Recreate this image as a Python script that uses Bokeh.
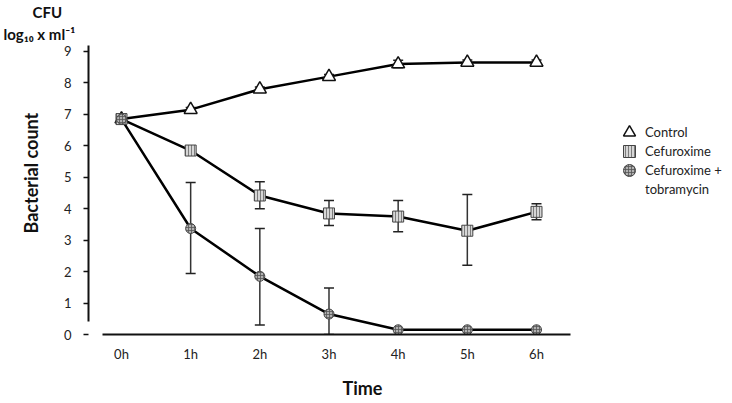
from bokeh.plotting import figure
from bokeh.models import (Range1d, FixedTicker, Whisker, TeeHead, ColumnDataSource,
                          Legend, LegendItem, Title)
from bokeh.embed import file_html
from bokeh.resources import INLINE

# ---- data ----
hours = ["0h", "1h", "2h", "3h", "4h", "5h", "6h"]
t = [0, 1, 2, 3, 4, 5, 6]
control = [6.85, 7.15, 7.80, 8.20, 8.60, 8.65, 8.65]
control_upper = [6.90, 7.22, 7.87, 8.27, 8.72, 8.73, 8.73]
control_lower = [6.80, 7.08, 7.73, 8.13, 8.48, 8.57, 8.57]
cef = [6.85, 5.85, 4.42, 3.85, 3.75, 3.30, 3.90]
cef_upper = [6.90, 5.95, 4.86, 4.26, 4.26, 4.45, 4.16]
cef_lower = [6.80, 5.75, 4.00, 3.47, 3.27, 2.20, 3.65]
combo = [6.85, 3.37, 1.85, 0.65, 0.15, 0.15, 0.15]
combo_upper = [6.90, 4.83, 3.37, 1.48, 0.15, 0.15, 0.15]
combo_lower = [6.80, 1.94, 0.30, 0.00, 0.15, 0.15, 0.15]
y_ticks = [0, 1, 2, 3, 4, 5, 6, 7, 8, 9]
legend_labels = ["Control", "Cefuroxime", "Cefuroxime +", "tobramycin"]

FONT = "Lato"
X0, X1 = -0.477, 8.776
Y0, Y1 = 0.0, 9.19

p = figure(frame_width=640, frame_height=289, min_border_left=88, min_border_right=0,
           min_border_top=44, min_border_bottom=70, title_location=None,
           x_range=Range1d(X0, X1), y_range=Range1d(Y0, Y1),
           output_backend="svg", toolbar_location=None)
p.outline_line_color = None
p.xgrid.visible = False
p.ygrid.visible = False
p.background_fill_color = "white"
p.border_fill_color = "white"

# axes
xa = p.xaxis[0]
xa.ticker = FixedTicker(ticks=t)
xa.major_label_overrides = {i: h for i, h in zip(t, hours)}
xa.major_tick_in = 0
xa.major_tick_out = 0
xa.minor_tick_line_color = None
xa.axis_line_width = 2
xa.axis_line_color = "#111111"
xa.bounds = (-0.275, 6.49)
xa.major_label_text_font = FONT
xa.major_label_text_font_size = "13px"
xa.major_label_text_color = "#222222"
xa.major_label_standoff = 11

ya = p.yaxis[0]
ya.ticker = FixedTicker(ticks=y_ticks)
ya.major_tick_in = 0
ya.major_tick_out = 5
ya.major_tick_line_width = 1.5
ya.major_tick_line_color = "#111111"
ya.minor_tick_line_color = None
ya.axis_line_width = 2
ya.axis_line_color = "#111111"
ya.bounds = (0.41, 9.19)
ya.major_label_text_font = FONT
ya.major_label_text_font_size = "13px"
ya.major_label_text_color = "#222222"
ya.major_label_standoff = 12

src_c = ColumnDataSource(dict(x=t, y=control, up=control_upper, lo=control_lower))
src_f = ColumnDataSource(dict(x=t, y=cef, up=cef_upper, lo=cef_lower))
src_m = ColumnDataSource(dict(x=t, y=combo, up=combo_upper, lo=combo_lower))

for s in (src_c, src_f, src_m):
    p.line("x", "y", source=s, line_width=2.5, line_color="black")

for s in (src_c, src_f, src_m):
    w = Whisker(base="x", upper="up", lower="lo", source=s, level="underlay",
                line_color="#333333", line_width=1.5,
                upper_head=TeeHead(size=10, line_width=1.5, line_color="#222222"),
                lower_head=TeeHead(size=10, line_width=1.5, line_color="#222222"))
    p.add_layout(w)

r_c = p.scatter("x", "y", source=src_c, marker="triangle", size=13,
                fill_color="white", line_color="#111111", line_width=1.5)
r_f = p.scatter("x", "y", source=src_f, marker="square", size=11,
                fill_color="#d6d6d6", line_color="#444444", line_width=1,
                hatch_pattern="|", hatch_scale=3, hatch_color="#666666", hatch_weight=0.8)
r_m = p.scatter("x", "y", source=src_m, marker="circle", size=10,
                fill_color="#b0b0b0", line_color="#444444", line_width=1,
                hatch_pattern="+", hatch_scale=3, hatch_color="#555555", hatch_weight=0.8)
r_dummy = p.scatter([], [], marker="circle", size=1, fill_alpha=0, line_alpha=0)

# one legend per row so that the rows sit closer than the glyph boxes
legend_bottoms = [187, 168, 149, 130]
for lbl, r, b in zip(legend_labels, [r_c, r_f, r_m, r_dummy], legend_bottoms):
    lg = Legend(items=[LegendItem(label=lbl, renderers=[r])], location=(526, b),
                padding=0, margin=0, spacing=0,
                glyph_width=30, glyph_height=30, label_height=19, label_standoff=1,
                label_text_font=FONT, label_text_font_size="13px",
                label_text_color="#222222",
                border_line_color=None, background_fill_alpha=0)
    p.add_layout(lg)

# unit lines above the y axis
p.add_layout(Title(text="log\u2081\u2080 x ml\u207b\u00b9", align="left", offset=-85, standoff=5,
                   text_font=FONT, text_font_size="15px", text_font_style="bold",
                   text_color="#111111"), "above")
p.add_layout(Title(text="CFU", align="left", offset=-56, standoff=0,
                   text_font=FONT, text_font_size="15px", text_font_style="bold",
                   text_color="#111111"), "above")

# axis titles
p.add_layout(Title(text="Bacterial count", align="left", offset=101, standoff=34,
                   vertical_align="top",
                   text_font=FONT, text_font_size="18px", text_font_style="bold",
                   text_color="#111111"), "left")
p.add_layout(Title(text="Time", align="left", offset=254, standoff=20,
                   text_font=FONT, text_font_size="18px", text_font_style="bold",
                   text_color="#111111"), "below")

open("out.html", "w").write(file_html(p, INLINE))
